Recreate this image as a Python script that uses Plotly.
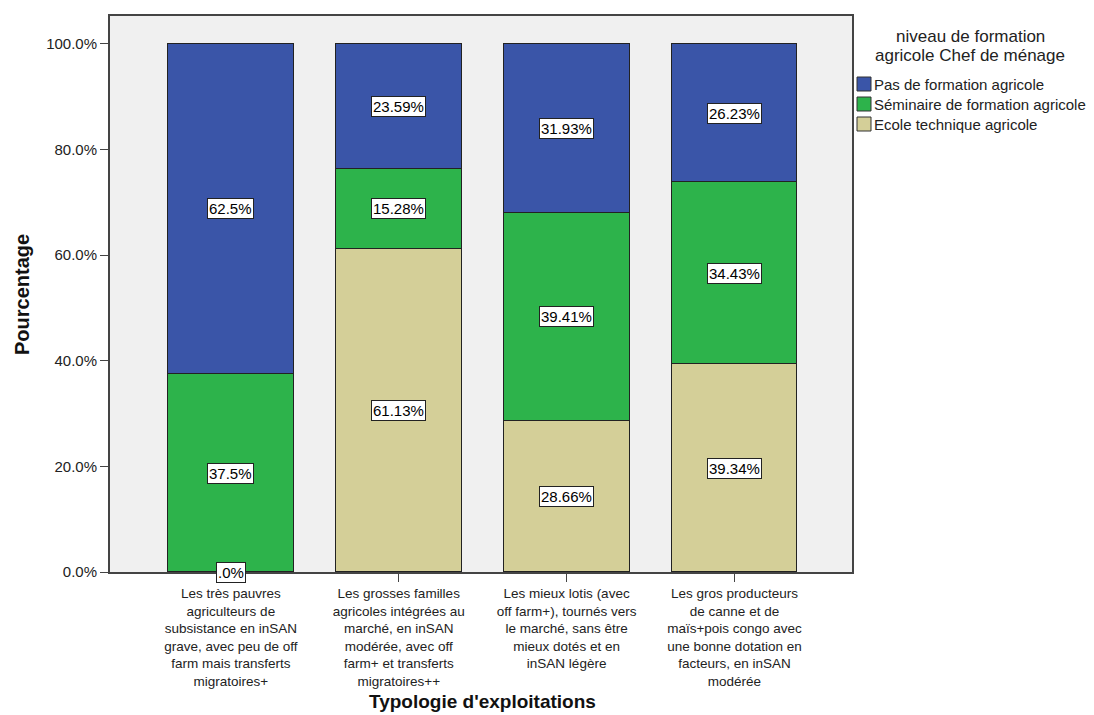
import plotly.graph_objects as go

categories = [
    "Les très pauvres<br>agriculteurs de<br>subsistance en inSAN<br>grave, avec peu de off<br>farm mais transferts<br>migratoires+",
    "Les grosses familles<br>agricoles intégrées au<br>marché, en inSAN<br>modérée, avec off<br>farm+ et transferts<br>migratoires++",
    "Les mieux lotis (avec<br>off farm+), tournés vers<br>le marché, sans être<br>mieux dotés et en<br>inSAN légère",
    "Les gros producteurs<br>de canne et de<br>maïs+pois congo avec<br>une bonne dotation en<br>facteurs, en inSAN<br>modérée",
]
ecole = [0.0, 61.13, 28.66, 39.34]
seminaire = [37.5, 15.28, 39.41, 34.43]
pas = [62.5, 23.59, 31.93, 26.23]
ecole_txt = [".0%", "61.13%", "28.66%", "39.34%"]
seminaire_txt = ["37.5%", "15.28%", "39.41%", "34.43%"]
pas_txt = ["62.5%", "23.59%", "31.93%", "26.23%"]
legend_title = ["niveau de formation", "agricole Chef de ménage"]
y_ticks = [0, 20, 40, 60, 80, 100]
y_ticktext = ["0.0%", "20.0%", "40.0%", "60.0%", "80.0%", "100.0%"]

xs = list(range(len(categories)))
series = [
    ("Ecole technique agricole", ecole, ecole_txt, "#D4CF98"),
    ("Séminaire de formation agricole", seminaire, seminaire_txt, "#2DB34B"),
    ("Pas de formation agricole", pas, pas_txt, "#3A55A8"),
]

# page body adds an 8px offset, so the figure is sized to compensate
W, H = 1086, 707
L, R, T, B = 102, 242, 8, 143
pw, ph = W - L - R, H - T - B
FONT = "Liberation Sans, Arial, sans-serif"


def px_x(x):
    return (x - (L + 8)) / pw


def px_y(y):
    return (T + 8 + ph - y) / ph


fig = go.Figure()
base = [0.0] * len(xs)
annos = []
for name, vals, txt, col in series:
    fig.add_trace(go.Bar(
        x=xs, y=vals, name=name, width=0.75,
        marker=dict(color=col, line=dict(color="#222222", width=1)),
        hoverinfo="skip", showlegend=False,
    ))
    for i, v in enumerate(vals):
        annos.append(dict(
            x=xs[i], y=base[i] + v / 2, xref="x", yref="y", text=txt[i],
            showarrow=False, bgcolor="white", bordercolor="#222222", borderwidth=1,
            borderpad=1, font=dict(size=15, color="black"),
        ))
        base[i] += v

# legend title and legend entries (top entry first)
for j, line in enumerate(legend_title):
    annos.append(dict(
        xref="paper", yref="paper", x=px_x(970), y=px_y(36 + 19 * j),
        xanchor="center", yanchor="middle", text=line, showarrow=False,
        font=dict(size=17, color="#222222"),
    ))
shapes = []
for k, (name, vals, txt, col) in enumerate(reversed(series)):
    top = 77 + 20 * k
    shapes.append(dict(
        type="rect", xref="paper", yref="paper",
        x0=px_x(857), x1=px_x(871), y0=px_y(top + 14), y1=px_y(top),
        fillcolor=col, line=dict(color="#333333", width=1),
    ))
    annos.append(dict(
        xref="paper", yref="paper", x=px_x(872), y=px_y(top + 7.5),
        xanchor="left", yanchor="middle", text=name, showarrow=False,
        font=dict(size=15, color="#222222"),
    ))

# axis titles
annos.append(dict(
    xref="paper", yref="paper", x=px_x(482), y=px_y(702),
    xanchor="center", yanchor="middle", text="<b>Typologie d'exploitations</b>",
    showarrow=False, font=dict(size=19, color="#111111"),
))
annos.append(dict(
    xref="paper", yref="paper", x=px_x(22), y=px_y(295),
    xanchor="center", yanchor="middle", text="<b>Pourcentage</b>", textangle=-90,
    showarrow=False, font=dict(size=20, color="#111111"),
))

fig.update_layout(
    barmode="stack",
    width=W, height=H,
    margin=dict(l=L, r=R, t=T, b=B, autoexpand=False),
    paper_bgcolor="white", plot_bgcolor="#F0F0F0",
    font=dict(family=FONT, size=13, color="#222222"),
    showlegend=False,
    annotations=annos,
    shapes=shapes,
    bargap=0,
)
fig.update_xaxes(
    tickmode="array", tickvals=xs, ticktext=categories,
    range=[-0.72, 3.70], showgrid=False, automargin=False,
    showline=True, linecolor="#444444", linewidth=2, mirror=True,
    ticks="outside", ticklen=8, tickcolor="#444444",
    tickfont=dict(size=13.5, color="#222222"),
)
fig.update_yaxes(
    range=[0, 105.3], tickvals=y_ticks, ticktext=y_ticktext,
    showgrid=False, zeroline=False, automargin=False,
    showline=True, linecolor="#444444", linewidth=2, mirror=True,
    ticks="outside", ticklen=8, tickcolor="#444444",
    tickfont=dict(size=15, color="#222222"),
)

fig.write_html("out.html")
